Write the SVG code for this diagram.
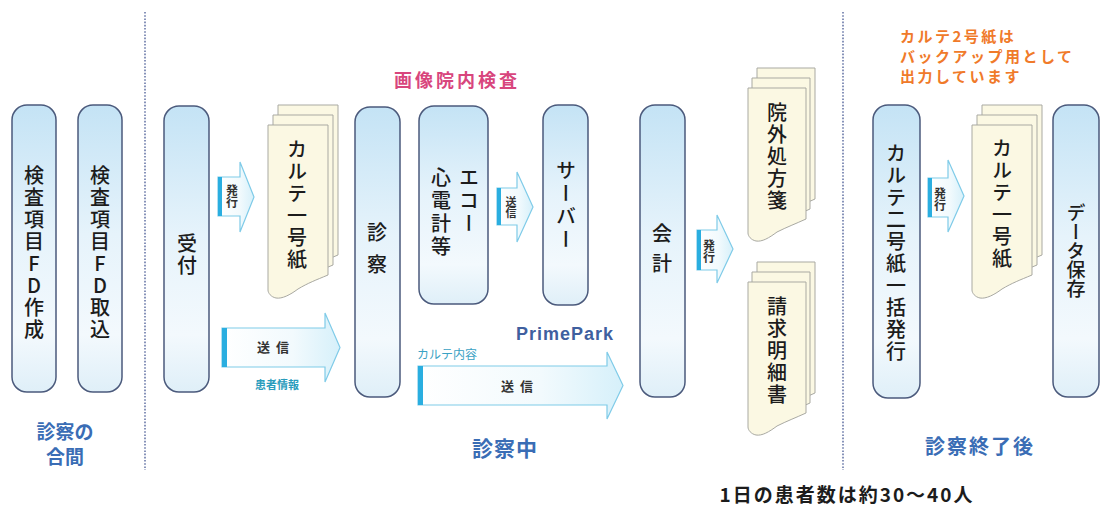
<svg xmlns="http://www.w3.org/2000/svg" width="1104" height="509" viewBox="0 0 1104 509">
<defs>
<linearGradient id="nodeGrad" x1="0" y1="0" x2="0" y2="1">
<stop offset="0" stop-color="#c4e3f5"/>
<stop offset="0.45" stop-color="#e6f3fb"/>
<stop offset="0.8" stop-color="#f3f9fd"/>
<stop offset="1" stop-color="#dfeff8"/>
</linearGradient>
<linearGradient id="arrGrad" x1="0" y1="0" x2="1" y2="0">
<stop offset="0" stop-color="#ffffff"/>
<stop offset="0.6" stop-color="#f2fafd"/>
<stop offset="1" stop-color="#d6f0fa"/>
</linearGradient>
<style>
.node{fill:url(#nodeGrad);stroke:#4b5a7c;stroke-width:1.5}
.page{fill:#fbf8e3;stroke:#a9a9a2;stroke-width:1}
.arr{fill:url(#arrGrad);stroke:#7fcbe8;stroke-width:1.2}
.bar{fill:#2aaee0}
.div{stroke:#6a78a8;stroke-width:1.6;stroke-dasharray:1.6 1.6;fill:none}
.vt{writing-mode:vertical-rl;text-orientation:upright;font-family:"Noto Sans CJK JP",sans-serif;font-size:20px;font-weight:500;fill:#1c1c1c;text-anchor:middle;letter-spacing:2px}
.vs{writing-mode:vertical-rl;text-orientation:upright;font-family:"Noto Sans CJK JP",sans-serif;font-size:12px;font-weight:bold;fill:#333;text-anchor:middle}
.ht{font-family:"Noto Sans CJK JP",sans-serif;font-weight:bold}
.sec{font-family:"Noto Sans CJK JP",sans-serif;font-weight:bold;fill:#3a6db5;text-anchor:middle}
</style>
<path id="docT" d="M0,0 H60 V150 C48,155 40,158 30,164 C22,170 14,174 8,173 C3,172 0,168 0,165 Z"/>
<path id="docS" d="M0,0 H58 V131 C47,136 39,139 29,144 C21,150 14,154 8,153 C3,152 0,148 0,145 Z"/>
</defs>
<rect width="1104" height="509" fill="#ffffff"/>

<g id="dividers">
<line class="div" x1="145" y1="12" x2="145" y2="470"/>
<line class="div" x1="843" y1="12" x2="843" y2="470"/>
</g>

<g id="connectors">
<g id="arr-hakko1">
<path class="arr" d="M218,177 H240 V162 L254,197 L240,232 V216 H218 Z"/>
<rect class="bar" x="218" y="177" width="4" height="39"/>
<text class="vs" x="232" y="196">発行</text>
</g>
<g id="arr-soshin1">
<path class="arr" d="M222,328 H325 V313 L340,347.5 L325,382 V367 H222 Z"/>
<rect class="bar" x="222" y="328" width="5" height="39"/>
<text class="ht" x="276" y="352" font-size="13" fill="#333" text-anchor="middle" letter-spacing="6">送信</text>
<text class="ht" x="277" y="389" font-size="11" fill="#2a9cbc" text-anchor="middle">患者情報</text>
</g>
<g id="arr-soshin2">
<path class="arr" d="M497,188 H517 V172 L533,207 L517,242 V225 H497 Z"/>
<rect class="bar" x="497" y="188" width="4" height="37"/>
<text class="vs" x="511" y="207" style="font-size:11px">送信</text>
</g>
<g id="arr-soshin3">
<path class="arr" d="M418,366 H607 V352 L623,385.5 L607,419 V405 H418 Z"/>
<rect class="bar" x="418" y="366" width="5" height="39"/>
<text class="ht" x="520" y="391" font-size="13" fill="#333" text-anchor="middle" letter-spacing="6">送信</text>
<text x="417" y="359" font-family="Noto Sans CJK JP, sans-serif" font-size="12" fill="#3aa2c4">カルテ内容</text>
</g>
<g id="arr-hakko2">
<path class="arr" d="M697,230 H717 V215 L733,249 L717,283 V270 H697 Z"/>
<rect class="bar" x="697" y="230" width="4" height="40"/>
<text class="vs" x="709" y="251">発行</text>
</g>
<g id="arr-hakko3">
<path class="arr" d="M928,178 H948 V160 L964,196 L948,232 V217 H928 Z"/>
<rect class="bar" x="928" y="178" width="4" height="39"/>
<text class="vs" x="940" y="199">発行</text>
</g>
</g>

<g id="node-fd-sakusei">
<rect class="node" x="12" y="105" width="44" height="287" rx="15"/>
<text class="vt" x="34" y="253">検査項目FD作成</text>
</g>
<g id="node-fd-torikomi">
<rect class="node" x="78" y="105" width="44" height="287" rx="15"/>
<text class="vt" x="100" y="253">検査項目FD取込</text>
</g>
<g id="node-uketsuke">
<rect class="node" x="164" y="106" width="45" height="286" rx="15"/>
<text class="vt" x="187" y="255">受付</text>
</g>
<g id="doc-karte1">
<use href="#docT" class="page" x="278" y="105"/>
<use href="#docT" class="page" x="273" y="115"/>
<use href="#docT" class="page" x="268" y="125"/>
<text class="vt" x="297" y="205">カルテ一号紙</text>
</g>
<g id="node-shinsatsu">
<rect class="node" x="355" y="107" width="45" height="290" rx="15"/>
<text class="vt" x="377" y="254" style="letter-spacing:12px">診察</text>
</g>
<g id="label-gazou">
<text class="ht" x="457" y="87" font-size="18" fill="#d8467d" text-anchor="middle" letter-spacing="3">画像院内検査</text>
</g>
<g id="node-echo">
<rect class="node" x="419" y="106" width="69" height="198" rx="15"/>
<text class="vt" x="469" y="167" style="text-anchor:start;letter-spacing:3px">エコー</text>
<text class="vt" x="441" y="167" style="text-anchor:start;letter-spacing:3px">心電計等</text>
</g>
<g id="node-server">
<rect class="node" x="543" y="105" width="45" height="200" rx="15"/>
<text class="vt" x="566" y="160" style="text-anchor:start;letter-spacing:3px">サーバー</text>
</g>
<g id="label-primepark">
<text x="565" y="340" font-family="Liberation Sans, Arial, sans-serif" font-weight="bold" font-size="18" fill="#3f5f9f" text-anchor="middle" letter-spacing="1">PrimePark</text>
</g>
<g id="node-kaikei">
<rect class="node" x="640" y="105" width="45" height="292" rx="15"/>
<text class="vt" x="662" y="253" style="letter-spacing:10px">会計</text>
</g>
<g id="doc-ingai">
<use href="#docS" class="page" x="757" y="68"/>
<use href="#docS" class="page" x="752" y="78"/>
<use href="#docS" class="page" x="748" y="88"/>
<text class="vt" x="777" y="157">院外処方箋</text>
</g>
<g id="doc-seikyu">
<use href="#docS" class="page" x="757" y="262"/>
<use href="#docS" class="page" x="752" y="272"/>
<use href="#docS" class="page" x="748" y="282"/>
<text class="vt" x="777" y="351">請求明細書</text>
</g>
<g id="label-backup">
<text class="ht" font-size="15" fill="#f07a2a" letter-spacing="2.5">
<tspan x="900" y="42">カルテ2号紙は</tspan>
<tspan x="900" y="62">バックアップ用として</tspan>
<tspan x="900" y="82">出力しています</tspan>
</text>
</g>
<g id="node-ikkatsu">
<rect class="node" x="873" y="105" width="47" height="293" rx="15"/>
<text class="vt" x="896" y="253">カルテ二号紙一括発行</text>
</g>
<g id="doc-karte1-r">
<use href="#docT" class="page" x="982" y="105"/>
<use href="#docT" class="page" x="977" y="115"/>
<use href="#docT" class="page" x="972" y="125"/>
<text class="vt" x="1002" y="204">カルテ一号紙</text>
</g>
<g id="node-data">
<rect class="node" x="1053" y="105" width="46" height="292" rx="15"/>
<text class="vt" x="1076" y="251" style="font-size:19px;letter-spacing:0px">データ保存</text>
</g>

<g id="section-labels">
<text class="sec" x="65" y="439" font-size="19">診察の</text>
<text class="sec" x="65" y="464" font-size="19">合間</text>
<text class="sec" x="505" y="456" font-size="21" letter-spacing="1">診察中</text>
<text class="sec" x="980" y="454" font-size="20" letter-spacing="2">診察終了後</text>
</g>
<g id="label-patients">
<text class="ht" x="847" y="502" font-size="19" fill="#1c1c1c" text-anchor="middle" letter-spacing="2">1日の患者数は約30～40人</text>
</g>
</svg>
